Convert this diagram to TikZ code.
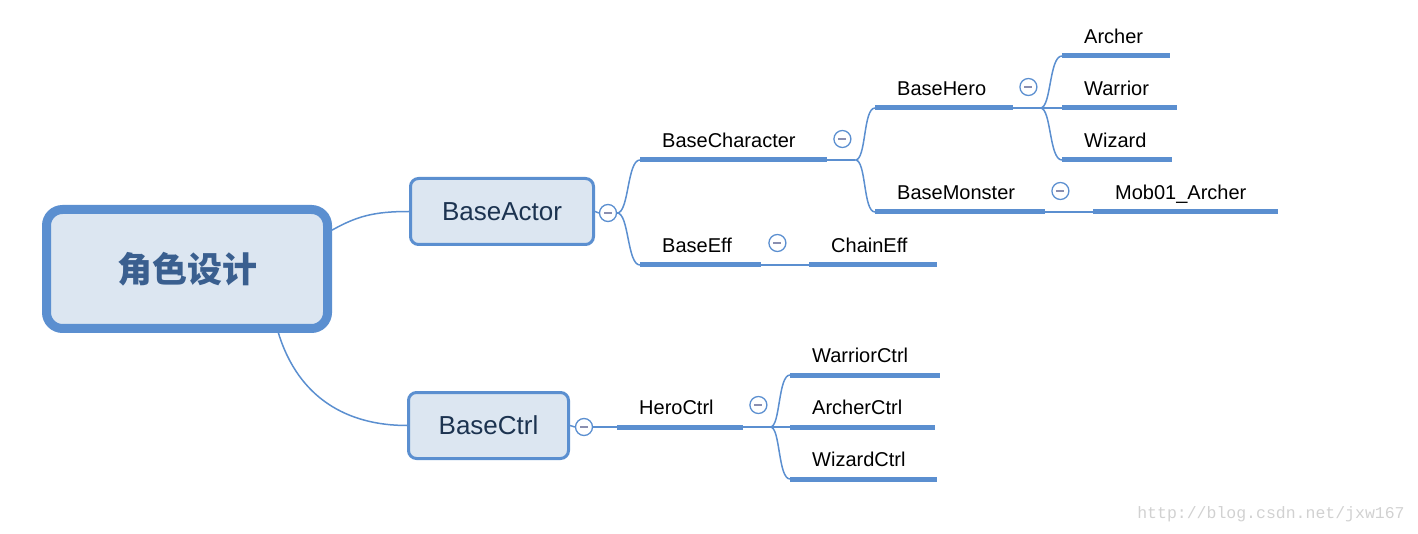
\documentclass[tikz,border=0pt]{standalone}
\usepackage{fontspec}
\setmainfont{Liberation Sans}
\newfontfamily\cjk{Noto Sans CJK SC}
\newfontfamily\markfont{Liberation Mono}
\usetikzlibrary{positioning, calc}
\definecolor{mapblue}{RGB}{91,143,208}
\definecolor{mapfill}{RGB}{220,230,241}
\definecolor{roottext}{RGB}{58,95,143}
\definecolor{boxtext}{RGB}{28,51,80}
\definecolor{foldmark}{RGB}{138,143,176}

\begin{document}
\begin{tikzpicture}[
    x=1pt, y=-1pt,
    root/.style={rectangle, rounded corners=16pt, draw=mapblue, line width=9pt, fill=mapfill, minimum width=281pt, minimum height=119pt, text=roottext, font=\cjk\bfseries\fontsize{35}{40}\selectfont},
    topic/.style={rectangle, rounded corners=8pt, draw=mapblue, line width=3pt, fill=mapfill, minimum height=66pt, text=boxtext, font=\fontsize{26}{30}\selectfont},
    leaf/.style={anchor=south west, inner xsep=22pt, inner ysep=12pt, text height=14pt, text depth=0pt, align=left, font=\fontsize{20}{24}\selectfont},
    uline/.style={draw=mapblue, line width=5pt},
    link/.style={draw=mapblue, line width=1.5pt},
    fold/.style={circle, draw=mapblue, line width=1.3pt, fill=white, minimum size=17pt, inner sep=0pt,
        path picture={\draw[foldmark, line width=1.5pt] ([xshift=4.5pt]path picture bounding box.west) -- ([xshift=-4.5pt]path picture bounding box.east);}}
]
    \useasboundingbox (0,0) rectangle (1418,534);

    % Main topics
    \node[root] (root) at (187,269) {角色设计};
    \node[topic, minimum width=183pt] (bactor) at (502,211.5) {BaseActor};
    \node[topic, minimum width=160pt] (bctrl) at (488.5,425.5) {BaseCtrl};

    \draw[link] (root.15) .. controls +(25,-14) and +(-35,0) .. (bactor.west);
    \draw[link] (root.-35) .. controls +(20,65) and +(-60,0) .. (bctrl.west);

    % BaseActor branch
    \node[leaf, text width=143pt] (bchar) at (640,160) {BaseCharacter};
    \node[leaf, text width=94pt] (bhero) at (875,108) {BaseHero};
    \node[leaf, text width=64pt] (archer) at (1062,56) {Archer};
    \node[leaf, text width=71pt] (warrior) at (1062,108) {Warrior};
    \node[leaf, text width=66pt] (wizard) at (1062,160) {Wizard};
    \node[leaf, text width=126pt] (bmonster) at (875,212) {BaseMonster};
    \node[leaf, text width=141pt] (mob) at (1093,212) {Mob01\_Archer};
    \node[leaf, text width=77pt] (beff) at (640,265) {BaseEff};
    \node[leaf, text width=84pt] (chain) at (809,265) {ChainEff};

    % BaseCtrl branch
    \node[leaf, text width=82pt] (heroctrl) at (617,427) {HeroCtrl};
    \node[leaf, text width=106pt] (warriorctrl) at (790,375) {WarriorCtrl};
    \node[leaf, text width=101pt] (archerctrl) at (790,427) {ArcherCtrl};
    \node[leaf, text width=103pt] (wizardctrl) at (790,479) {WizardCtrl};

    \foreach \n in {bchar, bhero, archer, warrior, wizard, bmonster, mob, beff, chain, heroctrl, warriorctrl, archerctrl, wizardctrl}
        \draw[uline] (\n.south west) -- (\n.south east);

    % Splits
    \draw[link] (bchar.south east) -- ++(28,0) coordinate (charsplit);
    \draw[link] (bhero.south east) -- ++(27,0) coordinate (herosplit);
    \draw[link] (heroctrl.south east) -- ++(27,0) coordinate (ctrlsplit);
    \draw[link] (bmonster.south east) -- (mob.south west);
    \draw[link] (beff.south east) -- (chain.south west);

    \draw[link] (charsplit) .. controls +(11,0) and +(-12,0) .. (bhero.south west);
    \draw[link] (charsplit) .. controls +(11,0) and +(-12,0) .. (bmonster.south west);
    \draw[link] (herosplit) .. controls +(11,0) and +(-13,0) .. (archer.south west);
    \draw[link] (herosplit) -- (warrior.south west);
    \draw[link] (herosplit) .. controls +(11,0) and +(-13,0) .. (wizard.south west);
    \draw[link] (ctrlsplit) .. controls +(10,0) and +(-12,0) .. (warriorctrl.south west);
    \draw[link] (ctrlsplit) -- (archerctrl.south west);
    \draw[link] (ctrlsplit) .. controls +(10,0) and +(-12,0) .. (wizardctrl.south west);

    % Fold buttons
    \node[fold] (factor) at (608,213) {};
    \node[fold] (fctrl) at (584,427) {};
    \node[fold] (fchar) at ([shift={(15,-21)}]bchar.south east) {};
    \node[fold] (fhero) at ([shift={(15,-21)}]bhero.south east) {};
    \node[fold] (fmonster) at ([shift={(15,-21)}]bmonster.south east) {};
    \node[fold] (feff) at ([shift={(16,-22)}]beff.south east) {};
    \node[fold] (fheroctrl) at ([shift={(15,-22)}]heroctrl.south east) {};

    \draw[link] (bactor.east) -- (factor.west);
    \draw[link] (bctrl.east) -- (fctrl.west);
    \draw[link] (factor.east) .. controls +(12,0) and +(-13,0) .. (bchar.south west);
    \draw[link] (factor.east) .. controls +(12,0) and +(-13,0) .. (beff.south west);
    \draw[link] (fctrl.east) -- (heroctrl.south west);

    \node[font=\markfont\fontsize{16.5}{18}\selectfont, text=black!18] (mark) at (1271,514) {http://blog.csdn.net/jxw167};
\end{tikzpicture}
\end{document}
